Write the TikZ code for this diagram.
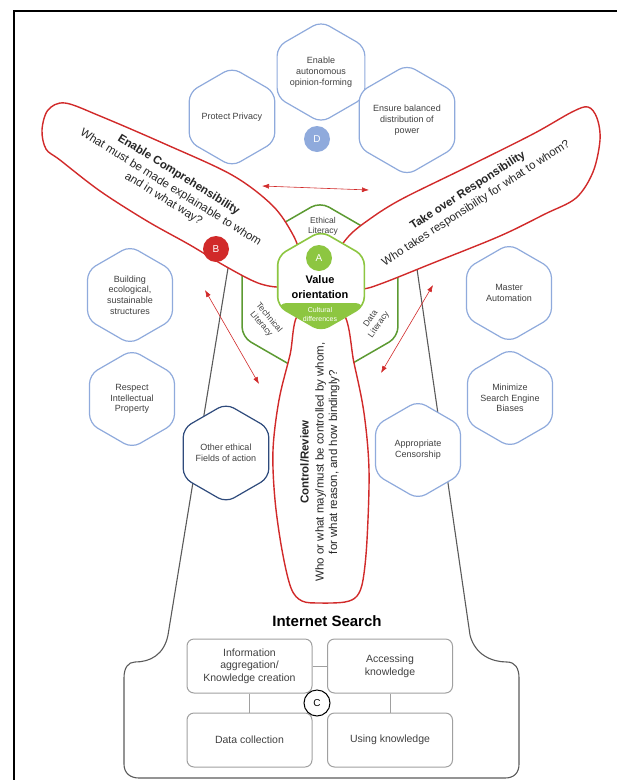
\documentclass[tikz,border=0pt]{standalone}
\usepackage{fontspec}
\setmainfont{Liberation Sans}
\usepackage{tikz}
\usetikzlibrary{shapes.geometric, arrows.meta}

\definecolor{hexblue}{HTML}{8FAADC}
\definecolor{navyblue}{HTML}{2F4B7C}
\definecolor{petalred}{HTML}{D12A2A}
\definecolor{leafgreen}{HTML}{8DC641}
\definecolor{darkgreen}{HTML}{5C9A32}
\definecolor{towergray}{HTML}{5A5A5A}
\definecolor{boxgray}{HTML}{A0A0A0}
\definecolor{textgray}{HTML}{404040}

\begin{document}
\begin{tikzpicture}[
                x=1pt, y=-1pt,
                hexa/.style={regular polygon, regular polygon sides=6, shape border rotate=30, minimum size=98pt, inner sep=0pt, draw=hexblue, line width=1.2pt, rounded corners=9pt, fill=white, align=center, text=textgray, font=\fontsize{9}{10.7}\selectfont},
                petal/.style={draw=petalred, line width=1.4pt, fill=white},
                petaltext/.style={align=center, text=black!85, font=\fontsize{11.5}{13.5}\selectfont},
                letter/.style={circle, minimum size=26pt, inner sep=0pt, text=white, font=\fontsize{10}{12}\selectfont},
                litlabel/.style={align=center, text=textgray, font=\fontsize{8.5}{10}\selectfont},
                searchbox/.style={rectangle, rounded corners=7pt, draw=boxgray, line width=1pt, minimum width=125pt, minimum height=54pt, align=center, text=textgray, font=\fontsize{10.5}{12.7}\selectfont},
                redarrow/.style={petalred, line width=0.6pt, {Latex[length=7pt,width=5pt]}-{Latex[length=7pt,width=5pt]}}
            ]
                \useasboundingbox (0,0) rectangle (617,780);

                % --- RAHMEN ---
                \draw[line width=2pt] (14,781) -- (14,11) -- (618,11);

                % --- TURM (HINTERGRUND) ---
                \draw[towergray, line width=1.1pt] (229,262) -- (168,635)
                    .. controls (164,655) and (150,662) .. (135,662)
                    .. controls (128,662) and (124,668) .. (124,678) -- (124,764)
                    .. controls (124,773) and (130,778) .. (139,778) -- (505,778)
                    .. controls (514,778) and (519,773) .. (519,764) -- (519,678)
                    .. controls (519,668) and (515,662) .. (507,662)
                    .. controls (492,662) and (475,655) .. (470,635) -- (416,262);

                % --- LITERACY-SECHSECK ---
                \node[regular polygon, regular polygon sides=6, shape border rotate=30, minimum size=180pt, draw=darkgreen, line width=1.5pt, rounded corners=10pt, fill=white] (literacyhex) at (320,292) {};
                \node[litlabel] (ethical) at (323,226) {Ethical\\Literacy};
                \node[litlabel, rotate=-50] (technical) at (265,321) {Technical\\Literacy};
                \node[litlabel, rotate=55] (data) at (375,322) {Data\\Literacy};

                % --- ROTORBLAETTER ---
                \draw[petal] plot[smooth cycle, tension=0.55] coordinates {(300,312) (290,355) (279,400) (273,450) (275,500) (282,550) (291,588) (302,601) (320,603) (345,602) (357,596) (363,580) (367,540) (369,470) (364,413) (354,363) (342,312)};
                \draw[petal] plot[smooth cycle, tension=0.55] coordinates {(300,255) (292,233) (272,205) (232,175) (165,144) (100,116) (65,103) (48,110) (42,130) (46,149) (60,160) (100,191) (147,221) (190,245) (225,266) (258,283) (282,287) (298,280)};
                \draw[petal] plot[smooth cycle, tension=0.55] coordinates {(338,255) (348,237) (367,221) (400,200) (467,167) (533,134) (572,112) (588,107) (597,118) (600,140) (593,172) (576,198) (545,214) (500,236) (433,263) (383,283) (362,289) (343,285)};

                \node[petaltext, rotate=-32] (comprehension) at (171,187) {\textbf{Enable Comprehensibility}\\[1.5pt]What must be made explainable to whom\\and in what way?};
                \node[petaltext, rotate=33] (responsibility) at (472,197) {\textbf{Take over Responsibility}\\[1.5pt]Who takes responsibility for what to whom?};
                \node[petaltext, rotate=90] (control) at (320,462) {\textbf{Control/Review}\\[1.5pt]Who or what may/must be controlled by whom,\\for what reason, and how bindingly?};

                % --- WERTORIENTIERUNG (MITTE) ---
                \node[regular polygon, regular polygon sides=6, shape border rotate=30, minimum size=100pt, draw=leafgreen, line width=1.6pt, rounded corners=9pt, fill=white,
                      path picture={\fill[leafgreen] (path picture bounding box.west) ++(0,22) rectangle (path picture bounding box.south east);}] (valuehex) at (321,281) {};
                \node[letter, fill=leafgreen] (markA) at (319,258) {A};
                \node[align=center, font=\bfseries\fontsize{11}{14.5}\selectfont] (value) at (320,287) {Value\\orientation};
                \node[align=center, text=white, font=\fontsize{7}{9}\selectfont] (cultural) at (320,314) {Cultural\\differences};

                % --- HANDLUNGSFELDER ---
                \node[hexa] (opinion) at (321,72) {Enable\\autonomous\\opinion-forming};
                \node[hexa] (privacy) at (232,117) {Protect Privacy};
                \node[hexa] (power) at (407,120) {Ensure balanced\\distribution of\\power};
                \node[hexa] (ecology) at (130,295) {Building\\ecological,\\sustainable\\structures};
                \node[hexa] (property) at (132,399) {Respect\\Intellectual\\Property};
                \node[hexa, draw=navyblue] (otherfields) at (226,453) {Other ethical\\Fields of action};
                \node[hexa] (automation) at (509,293) {Master\\Automation};
                \node[hexa] (biases) at (510,398) {Minimize\\Search Engine\\Biases};
                \node[hexa] (censorship) at (418,450) {Appropriate\\Censorship};

                \node[letter, fill=hexblue] (markD) at (317,139) {D};
                \node[letter, fill=petalred] (markB) at (216,249) {B};

                % --- PFEILE ---
                \coordinate (topL) at (262,186);
                \coordinate (topR) at (369,190);
                \coordinate (leftA) at (205,290);
                \coordinate (leftB) at (259,384);
                \coordinate (rightA) at (433,285);
                \coordinate (rightB) at (381,373);
                \draw[redarrow] (topL) -- (topR);
                \draw[redarrow] (leftA) -- (leftB);
                \draw[redarrow] (rightA) -- (rightB);

                % --- INTERNETSUCHE (UNTEN) ---
                \node[font=\bfseries\fontsize{15}{18}\selectfont] (search) at (327,621) {Internet Search};
                \node[searchbox] (aggregation) at (249.5,666) {Information\\aggregation/\\Knowledge creation};
                \node[searchbox] (accessing) at (390,666) {Accessing\\knowledge};
                \node[searchbox] (collection) at (249.5,740) {Data collection};
                \node[searchbox] (using) at (390,740) {Using knowledge};
                \draw[boxgray, line width=0.8pt] (aggregation.east) -- (accessing.west);
                \draw[boxgray, line width=0.8pt] (aggregation.south) -- (collection.north);
                \draw[boxgray, line width=0.8pt] (accessing.south) -- (using.north);
                \node[circle, draw=black, line width=1pt, fill=white, minimum size=26pt, inner sep=0pt, font=\fontsize{10}{12}\selectfont] (markC) at (317,703) {C};

            \end{tikzpicture}
\end{document}
